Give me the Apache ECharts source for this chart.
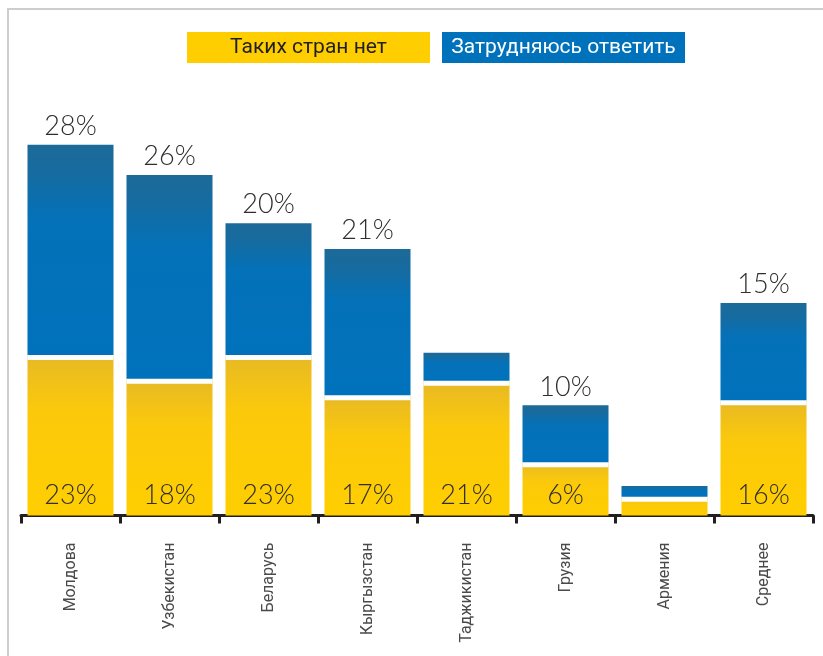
<!DOCTYPE html>
<html>
<head>
<meta charset="utf-8">
<script src="https://cdn.jsdelivr.net/npm/echarts@6/dist/echarts.min.js"></script>
<style>
html,body{margin:0;padding:0;background:#fff;}
#chart{width:823px;height:656px;}
</style>
</head>
<body>
<div id="chart"></div>
<script>
const categories = ['Молдова','Узбекистан','Беларусь','Кыргызстан','Таджикистан','Грузия','Армения','Среднее'];
const seriesNames = ['Таких стран нет','Затрудняюсь ответить'];
const noCountries = [22.3, 19.0, 22.3, 16.7, 18.7, 7.4, 2.6, 16.0];
const hardToSay = [29.2, 28.3, 18.3, 20.3, 3.9, 7.9, 1.5, 13.5];
const noCountriesLabels = ['23%','18%','23%','17%','21%','6%','','16%'];
const hardToSayLabels = ['28%','26%','20%','21%','','10%','','15%'];

const chart = echarts.init(document.getElementById('chart'), null, {renderer:'canvas'});

const yellowGrad = new echarts.graphic.LinearGradient(0,0,0,1,[
  {offset:0,color:'#e7b925'},{offset:0.35,color:'#fbc90b'},{offset:1,color:'#ffce00'}]);
const blueGrad = new echarts.graphic.LinearGradient(0,0,0,1,[
  {offset:0,color:'#1c6a99'},{offset:0.12,color:'#176b9e'},{offset:0.35,color:'#0471b8'},{offset:1,color:'#0072bc'}]);

const labelFont = 'Lato, Roboto, sans-serif';

const option = {
  animation:false,
  backgroundColor:'#fff',
  graphic:[
    {type:'rect', shape:{x:8,y:9,width:900,height:900}, style:{fill:'none',stroke:'#cdcdcd',lineWidth:2}, silent:true},
    {type:'rect', shape:{x:187,y:32,width:243,height:31}, style:{fill:'#ffce00'}},
    {type:'text', x:308.5, y:48, style:{text:seriesNames[0], align:'center', verticalAlign:'middle', font:'21px Roboto', fill:'#231f20'}},
    {type:'rect', shape:{x:442,y:32,width:243,height:31}, style:{fill:'#0072bc'}},
    {type:'text', x:563.5, y:48, style:{text:seriesNames[1], align:'center', verticalAlign:'middle', font:'21px Roboto', fill:'#ffffff'}}
  ],
  grid:{left:21, right:10, top:83.5, bottom:140.5, containLabel:false},
  xAxis:{
    type:'category',
    data:categories,
    axisLine:{show:true, lineStyle:{color:'#231f20', width:3}},
    axisTick:{show:true, length:8, interval:0, lineStyle:{color:'#231f20', width:3}},
    axisLabel:{rotate:90, interval:0, margin:27, fontSize:16, fontFamily:'Roboto', color:'#4a4a4a'}
  },
  yAxis:{type:'value', min:0, max:60, show:false, splitLine:{show:false}},
  series:[
    {
      name:seriesNames[0], type:'bar', stack:'total', barWidth:86,
      data:noCountries,
      itemStyle:{color:yellowGrad},
      label:{show:true, position:'insideBottom', distance:7, fontSize:27, fontFamily:labelFont, fontWeight:300, color:'#2e2e2e',
        formatter:p=>noCountriesLabels[p.dataIndex]}
    },
    {
      name:seriesNames[1], type:'bar', stack:'total', barWidth:86,
      data:hardToSay,
      itemStyle:{color:blueGrad, shadowColor:'#ffffff', shadowBlur:0, shadowOffsetX:0, shadowOffsetY:5},
      label:{show:true, position:'top', distance:5, fontSize:27, fontFamily:labelFont, fontWeight:300, color:'#2e2e2e',
        formatter:p=>hardToSayLabels[p.dataIndex]}
    }
  ]
};
chart.setOption(option);
</script>
</body>
</html>
